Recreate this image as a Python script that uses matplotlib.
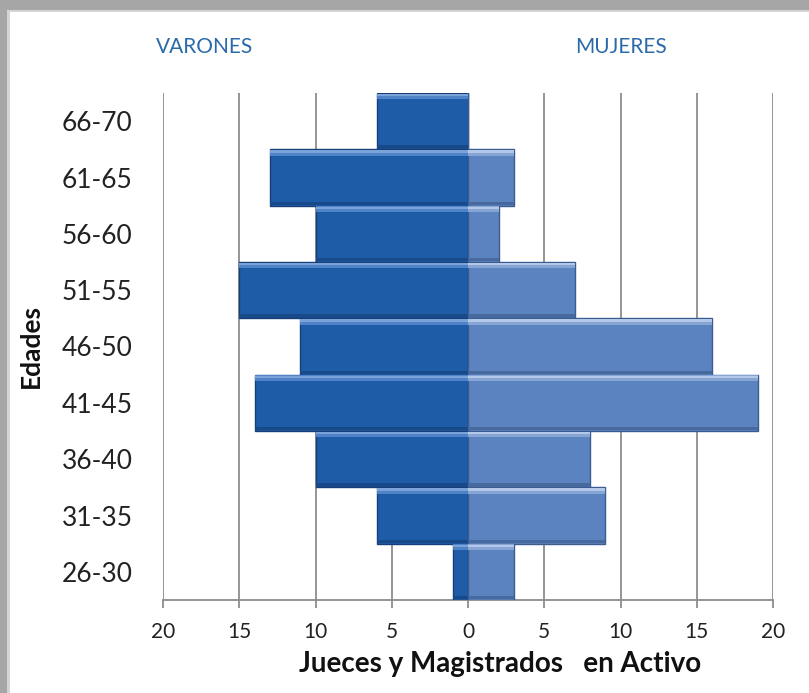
import matplotlib
matplotlib.use("Agg")
from matplotlib import pyplot as plt
from matplotlib.patches import Rectangle

edades = ["26-30", "31-35", "36-40", "41-45", "46-50", "51-55", "56-60", "61-65", "66-70"]
varones = [1, 6, 10, 14, 11, 15, 10, 13, 6]
mujeres = [3, 9, 8, 19, 16, 7, 2, 3, 0]
ticks = [-20, -15, -10, -5, 0, 5, 10, 15, 20]
tick_labels = ["20", "15", "10", "5", "0", "5", "10", "15", "20"]

plt.rcParams['font.family'] = ['Lato', 'DejaVu Sans']

fig = plt.figure(figsize=(8.09, 6.93), dpi=100)
fig.patch.set_facecolor("#a6a6a6")
# white panel with a soft frame
fig.patches.append(Rectangle((7 / 809, 0), 802 / 809, 683 / 693, transform=fig.transFigure,
                             facecolor="#d4d4d4", edgecolor="none", zorder=-10))
fig.patches.append(Rectangle((10 / 809, 0), 799 / 809, 681 / 693, transform=fig.transFigure,
                             facecolor="white", edgecolor="none", zorder=-9))

ax = fig.add_axes([163 / 809, 93 / 693, 610 / 809, 507 / 693])
ax.set_facecolor("none")

y = range(len(edades))
neg = [-v for v in varones]

# main bars
ax.barh(y, neg, height=1.0, color="#1f5ca8", edgecolor="#163f78", linewidth=1.0, zorder=3)
ax.barh(y, mujeres, height=1.0, color="#5b83c0", edgecolor="#3a5c90", linewidth=1.0, zorder=3)
# bevel: light top edge, darker lower edge
ax.barh([i + 0.44 for i in y], neg, height=0.1, color="#4f82c6", linewidth=0, zorder=4)
ax.barh([i + 0.46 for i in y], neg, height=0.04, color="#7aa3da", linewidth=0, zorder=4)
ax.barh([i + 0.44 for i in y], mujeres, height=0.1, color="#86a5d5", linewidth=0, zorder=4)
ax.barh([i + 0.46 for i in y], mujeres, height=0.04, color="#b3c8e8", linewidth=0, zorder=4)
ax.barh([i - 0.46 for i in y], neg, height=0.06, color="#184a8a", linewidth=0, zorder=4)
ax.barh([i - 0.46 for i in y], mujeres, height=0.06, color="#48699e", linewidth=0, zorder=4)

ax.set_xlim(-20, 20)
ax.set_ylim(-0.5, len(edades) - 0.5)
ax.set_xticks(ticks)
ax.set_xticklabels(tick_labels, fontsize=15, color="#222222")
ax.set_yticks(list(y))
ax.set_yticklabels(edades, fontsize=19, color="#222222")
ax.xaxis.grid(True, color="#8c8c8c", linewidth=1.3, zorder=0)
ax.set_axisbelow(True)
for s in ["top", "right", "left"]:
    ax.spines[s].set_visible(False)
ax.spines["bottom"].set_color("#8c8c8c")
ax.spines["bottom"].set_linewidth(1.3)
ax.tick_params(axis="x", direction="out", length=6, color="#8c8c8c", width=1.3, pad=10)
ax.tick_params(axis="y", length=0, pad=22)

ax.set_xlabel("Jueces y Magistrados   en Activo", fontsize=20, fontweight="bold",
              labelpad=6, color="#111111")
ax.xaxis.label.set_x((500 - 163) / 610)
ax.set_ylabel("Edades", fontsize=19, fontweight="bold", color="#111111")
ax.yaxis.set_label_coords(-(163 - 43) / 610, 0.5)

fig.text(205 / 809, 1 - 47 / 693, "VARONES", color="#2a6aa8", fontsize=15, ha="center", va="center")
fig.text(621 / 809, 1 - 47 / 693, "MUJERES", color="#2a6aa8", fontsize=15, ha="center", va="center")

fig.savefig("out.png", dpi=100)
